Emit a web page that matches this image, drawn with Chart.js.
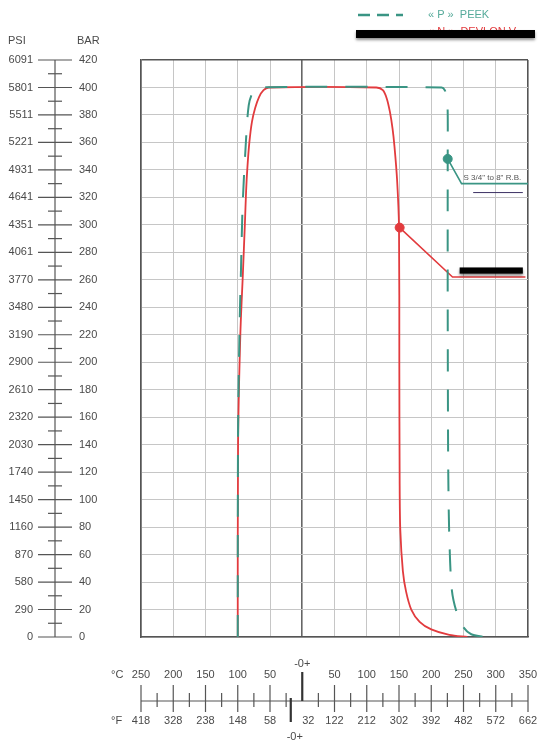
<!DOCTYPE html>
<html>
<head>
<meta charset="utf-8">
<script src="https://cdn.jsdelivr.net/npm/chart.js@4.4.1/dist/chart.umd.min.js"></script>
<style>
  html, body { margin: 0; background: #fff; }
  #wrap { width: 539px; height: 742px; }
</style>
</head>
<body>
<div id="wrap"><canvas id="chart"></canvas></div>
<script>
// pressure scale (BAR) with matching PSI labels
const barTicks = [0, 20, 40, 60, 80, 100, 120, 140, 160, 180, 200, 220, 240, 260, 280, 300, 320, 340, 360, 380, 400, 420];
const psiTicks = [0, 290, 580, 870, 1160, 1450, 1740, 2030, 2320, 2610, 2900, 3190, 3480, 3770, 4061, 4351, 4641, 4931, 5221, 5511, 5801, 6091];

// temperature scale
const celsiusTicks = [-250, -200, -150, -100, -50, 0, 50, 100, 150, 200, 250, 300, 350];
const fahrenheitLabels = ['418', '328', '238', '148', '58', '32', '122', '212', '302', '392', '482', '572', '662'];

// « P » PEEK (dashed)
const peekTemp = [-100, -99.5, -97, -95, -92.5, -88, -83, -76, -66, 216, 221, 224, 225.5, 225.5, 225.5, 226, 226.5, 228, 232, 240, 250, 262, 282];
const peekBar  = [0, 150, 230, 267, 313, 355, 387, 397, 400, 400, 398, 393, 382, 348, 250, 150, 114, 73, 34, 17, 7, 2, 0];

// « N » (solid red)
const devlonTemp = [-100, -99.5, -96, -92, -89, -87, -85, -82, -78, -73, -67, -60, -52, 115, 125, 131, 136, 140, 143, 147, 150, 150.5, 151, 152, 156, 161, 169, 182, 200, 228, 256];
const devlonBar  = [0, 140, 220, 265, 300, 325, 342, 360, 375, 385, 393, 398, 400, 400, 398, 392, 382, 370, 357, 333, 298, 200, 114, 78, 48, 33, 20, 11, 5.5, 1.5, 0];

// callouts
const peekMark = { x: 225.5, y: 348 };
const devlonMark = { x: 151, y: 298 };
const peekLeaderTemp = [225.5, 247, 350];
const peekLeaderBar = [348, 330, 330];
const devlonLeaderTemp = [151, 233, 346];
const devlonLeaderBar = [298, 262, 262];

const legendLabels = ['« P »  PEEK', '« N »  DEVLON V'];
const noteLabel = 'S 3/4" to 8" R.B.';

const GREEN = '#3a9584';
const RED = '#e23b3e';
const TEXT = '#4a4a4a';
const FONT = '"Liberation Sans", Arial, sans-serif';

const toPoints = (xs, ys) => xs.map((v, i) => ({ x: v, y: ys[i] }));

const rulers = {
  id: 'rulers',
  afterDraw(chart) {
    const { ctx, scales: { x, y } } = chart;
    const seg = (x1, y1, x2, y2) => { ctx.beginPath(); ctx.moveTo(x1, y1); ctx.lineTo(x2, y2); ctx.stroke(); };
    ctx.save();
    ctx.strokeStyle = '#555';
    ctx.fillStyle = TEXT;
    ctx.font = '11px ' + FONT;
    ctx.textBaseline = 'middle';

    // left pressure ruler
    const rx = 55;
    ctx.lineWidth = 1.2;
    seg(rx, y.getPixelForValue(420), rx, y.getPixelForValue(0));
    barTicks.forEach((v, i) => {
      const py = y.getPixelForValue(v);
      seg(38, py, 72, py);
      if (v < 420) {
        const pm = y.getPixelForValue(v + 10);
        seg(48, pm, 62, pm);
      }
      ctx.textAlign = 'right';
      ctx.fillText(String(psiTicks[i]), 33, py);
      ctx.textAlign = 'left';
      ctx.fillText(String(v), 79, py);
    });
    ctx.textAlign = 'left';
    ctx.fillText('PSI', 8, 41);
    ctx.fillText('BAR', 77, 41);

    // bottom temperature ruler
    const ry = 701;
    seg(x.getPixelForValue(-250), ry, x.getPixelForValue(350), ry);
    celsiusTicks.forEach((v, i) => {
      const px = x.getPixelForValue(v);
      if (v !== 0) seg(px, 685, px, 712);
      if (v < 350) {
        const pm = x.getPixelForValue(v + 25);
        seg(pm, 693, pm, 707);
      }
      ctx.textAlign = 'center';
      if (v !== 0) ctx.fillText(String(Math.abs(v)), px, 675);
      if (v === 0) ctx.fillText(fahrenheitLabels[i], px + 6, 721);
      else ctx.fillText(fahrenheitLabels[i], px, 721);
    });
    ctx.lineWidth = 2.2;
    ctx.strokeStyle = '#333';
    const p0 = x.getPixelForValue(0);
    seg(p0, 672, p0, ry);
    const pf0 = x.getPixelForValue(-17.8);
    seg(pf0, ry - 3, pf0, 722);
    ctx.textAlign = 'center';
    ctx.fillText('-0+', p0, 664);
    ctx.fillText('-0+', pf0 + 4, 737);
    ctx.textAlign = 'left';
    ctx.fillText('°C', 111, 675);
    ctx.fillText('°F', 111, 721);

    // legend
    ctx.strokeStyle = GREEN;
    ctx.lineWidth = 2.5;
    ctx.setLineDash([12, 7]);
    seg(358, 15, 403, 15);
    ctx.setLineDash([]);
    ctx.font = '11px ' + FONT;
    ctx.fillStyle = '#55aa9a';
    ctx.fillText(legendLabels[0], 428, 15);
    ctx.fillStyle = RED;
    ctx.fillText(legendLabels[1], 428, 32);

    // note on the PEEK callout
    ctx.font = '8px ' + FONT;
    ctx.fillStyle = '#555';
    ctx.fillText(noteLabel, x.getPixelForValue(250), y.getPixelForValue(334));
    ctx.strokeStyle = '#3b2f63';
    ctx.lineWidth = 1;
    seg(x.getPixelForValue(265), y.getPixelForValue(323.5), x.getPixelForValue(342), y.getPixelForValue(323.5));

    // blacked-out labels
    ctx.shadowColor = 'rgba(0,0,0,0.45)';
    ctx.shadowBlur = 3;
    ctx.shadowOffsetY = 2;
    ctx.fillStyle = '#000';
    ctx.fillRect(356, 30, 179, 8);
    const bx1 = x.getPixelForValue(244), bx2 = x.getPixelForValue(342);
    const by1 = y.getPixelForValue(269), by2 = y.getPixelForValue(264.5);
    ctx.fillRect(bx1, by1, bx2 - bx1, by2 - by1);
    ctx.restore();
  }
};

new Chart(document.getElementById('chart'), {
  type: 'scatter',
  data: {
    datasets: [
      {
        label: 'PEEK',
        data: toPoints(peekTemp, peekBar),
        showLine: true,
        borderColor: GREEN,
        borderWidth: 2,
        borderDash: [22, 18],
        pointRadius: 0,
        tension: 0.3
      },
      {
        label: 'DEVLON',
        data: toPoints(devlonTemp, devlonBar),
        showLine: true,
        borderColor: RED,
        borderWidth: 1.8,
        pointRadius: 0,
        tension: 0.3
      },
      {
        label: 'peek leader',
        data: toPoints(peekLeaderTemp, peekLeaderBar),
        showLine: true,
        borderColor: GREEN,
        borderWidth: 1.6,
        pointRadius: 0,
        tension: 0
      },
      {
        label: 'devlon leader',
        data: toPoints(devlonLeaderTemp, devlonLeaderBar),
        showLine: true,
        borderColor: RED,
        borderWidth: 1.6,
        pointRadius: 0,
        tension: 0
      },
      {
        label: 'peek mark',
        data: [peekMark],
        pointRadius: 4.5,
        backgroundColor: GREEN,
        borderColor: GREEN
      },
      {
        label: 'devlon mark',
        data: [devlonMark],
        pointRadius: 4.5,
        backgroundColor: RED,
        borderColor: RED
      }
    ]
  },
  options: {
    responsive: true,
    maintainAspectRatio: false,
    animation: false,
    layout: { padding: { left: 141, top: 60, right: 11, bottom: 105 } },
    plugins: { legend: { display: false }, tooltip: { enabled: false } },
    scales: {
      x: {
        type: 'linear',
        min: -250,
        max: 350,
        ticks: { display: false, stepSize: 50 },
        grid: {
          drawTicks: false,
          color: c => c.tick.value === 0 ? '#666' : (c.tick.value === 350 ? '#555' : '#c6c6c6'),
          lineWidth: c => (c.tick.value === 0 || c.tick.value === 350) ? 1.6 : 1
        },
        border: { color: '#555', width: 1.6 }
      },
      y: {
        type: 'linear',
        min: 0,
        max: 420,
        ticks: { display: false, stepSize: 20 },
        grid: {
          drawTicks: false,
          color: c => c.tick.value === 420 ? '#555' : '#c6c6c6',
          lineWidth: c => c.tick.value === 420 ? 1.6 : 1
        },
        border: { color: '#555', width: 1.6 }
      }
    }
  },
  plugins: [rulers]
});
</script>
</body>
</html>
